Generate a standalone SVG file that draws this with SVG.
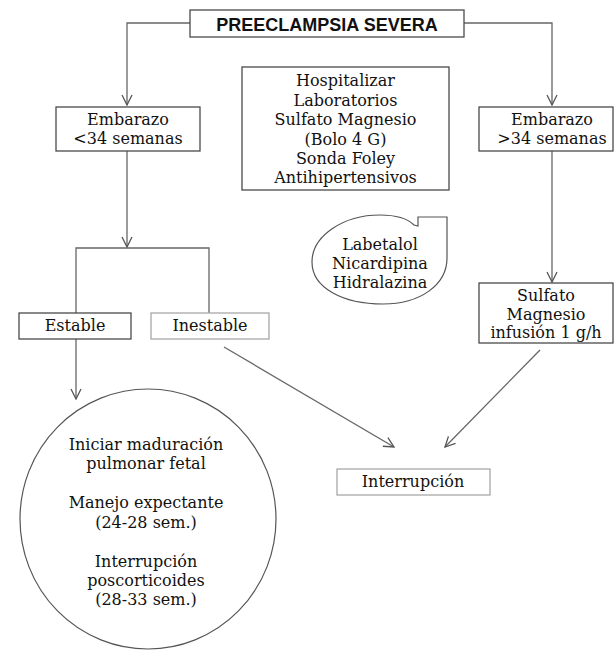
<svg xmlns="http://www.w3.org/2000/svg" width="614" height="652" viewBox="0 0 614 652">
  <style>
    .box { fill: #ffffff; stroke: #4a4a4a; stroke-width: 1.3; }
    .lite { fill: #ffffff; stroke: #a8a8a8; stroke-width: 1.3; }
    .shape { fill: #ffffff; stroke: #555555; stroke-width: 1.2; }
    .t { font-family: "DejaVu Serif", "Liberation Serif", serif; font-size: 16px; fill: #111111; text-anchor: middle; }
    .title { font-family: "Liberation Sans", Arial, sans-serif; font-size: 18px; font-weight: bold; fill: #111111; text-anchor: middle; }
    .edge { fill: none; stroke: #666666; stroke-width: 1.3; }
  </style>
  <defs>
    <marker id="arrow" viewBox="0 0 12 12" refX="11" refY="6" markerWidth="12" markerHeight="12" markerUnits="userSpaceOnUse" orient="auto">
      <path d="M1,1 L11,6 L1,11" fill="none" stroke="#555555" stroke-width="1.3"/>
    </marker>
  </defs>
  <rect width="614" height="652" fill="#ffffff"/>

  <g id="connectors">
    <path class="edge" d="M190,23 H127 V105" marker-end="url(#arrow)"/>
    <path class="edge" d="M464,23 H552 V105" marker-end="url(#arrow)"/>
    <path class="edge" d="M127,151 V247" marker-end="url(#arrow)"/>
    <path class="edge" d="M76,313 V248 H209 V313"/>
    <path class="edge" d="M76,339 V399" marker-end="url(#arrow)"/>
    <path class="edge" d="M552,151 V282" marker-end="url(#arrow)"/>
    <path class="edge" d="M224,347 L394,447" marker-end="url(#arrow)"/>
    <path class="edge" d="M540,350 L445,447" marker-end="url(#arrow)"/>
  </g>

  <g id="preeclampsia">
    <rect class="box" x="190" y="10" width="274" height="27"/>
    <text class="title" x="327" y="31">PREECLAMPSIA SEVERA</text>
  </g>

  <g id="medidas">
    <rect class="box" x="242" y="67" width="207" height="123"/>
    <text class="t" x="345.5" y="86">Hospitalizar</text>
    <text class="t" x="345.5" y="106">Laboratorios</text>
    <text class="t" x="345.5" y="125">Sulfato Magnesio</text>
    <text class="t" x="345.5" y="145">(Bolo 4 G)</text>
    <text class="t" x="345.5" y="164">Sonda Foley</text>
    <text class="t" x="345.5" y="183">Antihipertensivos</text>
  </g>

  <g id="embarazo-menor">
    <rect class="box" x="56" y="107" width="144" height="44"/>
    <text class="t" x="128" y="125">Embarazo</text>
    <text class="t" x="128" y="144">&lt;34 semanas</text>
  </g>

  <g id="embarazo-mayor">
    <rect class="box" x="479" y="107" width="134" height="44"/>
    <text class="t" x="552" y="125">Embarazo</text>
    <text class="t" x="552" y="144">&gt;34 semanas</text>
  </g>

  <g id="antihipertensivos">
    <path class="shape" d="M418,217 L447,217 L447,258 C447,285 420,304 383,304 C343,304 312,288 312,262 C312,236 343,215 380,215 C396,215 408,219 414,225 L418,226 Z"/>
    <text class="t" x="380" y="250">Labetalol</text>
    <text class="t" x="380" y="269">Nicardipina</text>
    <text class="t" x="380" y="288">Hidralazina</text>
  </g>

  <g id="estable">
    <rect class="box" x="19" y="313" width="112" height="26"/>
    <text class="t" x="75" y="331">Estable</text>
  </g>

  <g id="inestable">
    <rect class="lite" x="151" y="313" width="118" height="26"/>
    <text class="t" x="210" y="331">Inestable</text>
  </g>

  <g id="sulfato-infusion">
    <rect class="box" x="479" y="283" width="134" height="60"/>
    <text class="t" x="546" y="301">Sulfato</text>
    <text class="t" x="546" y="320">Magnesio</text>
    <text class="t" x="546" y="338">infusión 1 g/h</text>
  </g>

  <g id="manejo">
    <ellipse class="shape" cx="148" cy="519" rx="128" ry="130"/>
    <text class="t" x="146" y="450">Iniciar maduración</text>
    <text class="t" x="146" y="469">pulmonar fetal</text>
    <text class="t" x="146" y="508">Manejo expectante</text>
    <text class="t" x="146" y="528">(24-28 sem.)</text>
    <text class="t" x="146" y="567">Interrupción</text>
    <text class="t" x="146" y="586">poscorticoides</text>
    <text class="t" x="146" y="605">(28-33 sem.)</text>
  </g>

  <g id="interrupcion">
    <rect class="lite" x="337" y="469" width="153" height="26"/>
    <text class="t" x="413" y="487">Interrupción</text>
  </g>
</svg>
